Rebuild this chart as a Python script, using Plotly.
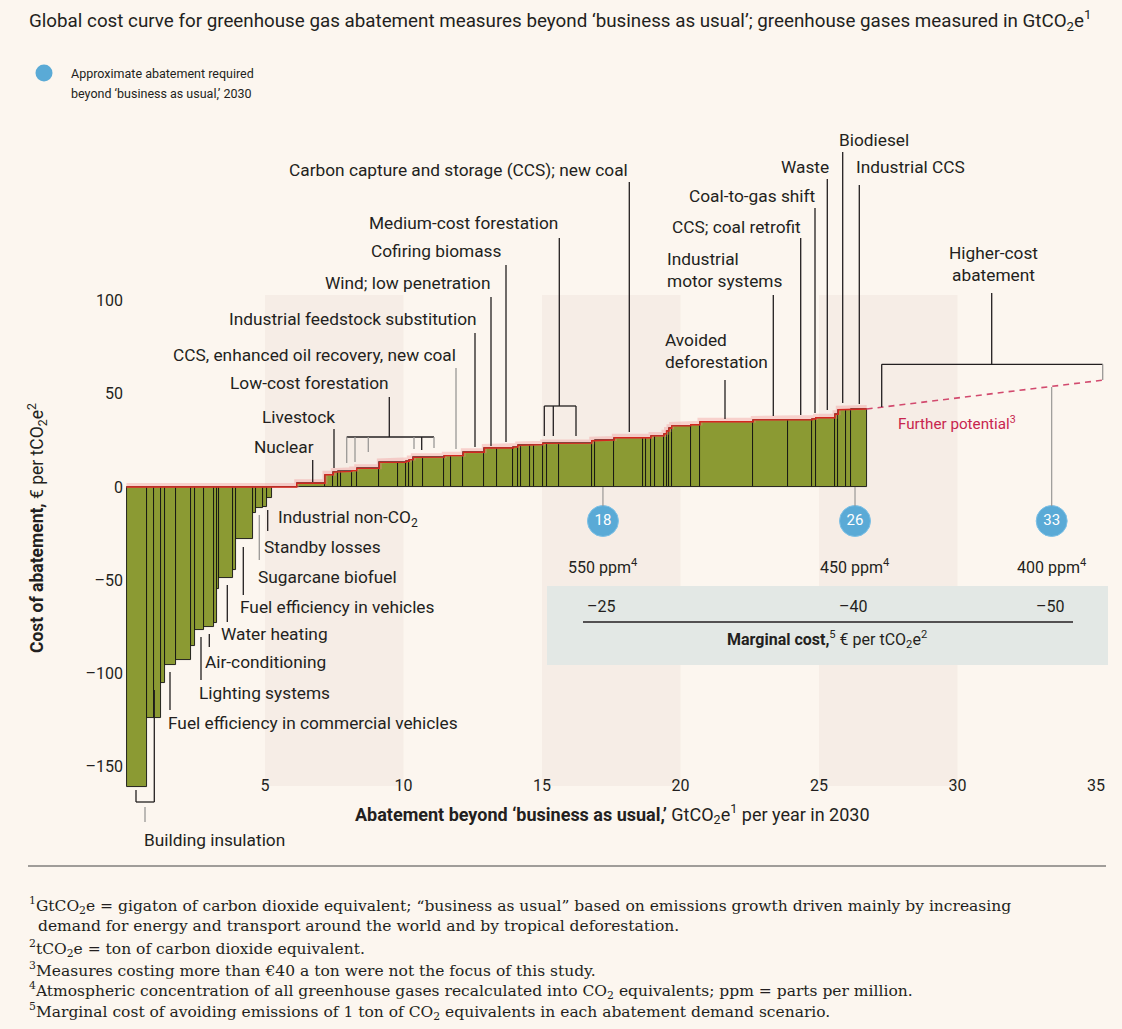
import plotly.graph_objects as go

# ---------------- data ----------------
# abatement width of each measure, GtCO2e per year, in cost-curve order
widths = [0.751, 0.253, 0.231, 0.155, 0.397, 0.542, 0.144, 0.336, 0.350, 0.097,
          0.094, 0.484, 0.119, 0.625, 0.097, 0.242, 0.144, 0.181,
          0.903,
          1.022, 0.300, 0.181, 0.097, 0.386, 0.181, 0.816, 0.686, 0.278, 0.119,
          0.144, 0.361, 0.758, 0.242, 0.444, 0.758, 0.448, 0.599, 0.159, 0.108,
          0.336, 0.155, 0.303, 0.144, 0.455, 1.170, 0.119, 0.697, 1.047, 0.097,
          0.181, 0.144, 0.325, 0.090, 0.090, 0.097, 0.686, 0.336, 1.924, 1.264,
          0.866, 0.123, 0.697, 0.119, 0.278, 0.170, 0.578]
# cost of each measure, EUR per tCO2e
costs = [-160.6, -124, -124, -105.3, -95.4, -93, -85, -76.7, -75, -72.7,
         -54.8, -49, -44.5, -27.9, -14.1, -11.4, -10.9, -6,
         0,
         2.0, 6.6, 8.0, 8.4, 8.4, 8.8, 10.0, 13.2, 13.2, 13.8,
         14.7, 15.9, 16.0, 16.8, 16.8, 18.6, 20.9, 20.9, 21.4, 22.3,
         22.7, 22.7, 22.7, 23.4, 23.4, 23.5, 24.8, 25.2, 26.4, 26.4,
         26.4, 27.4, 27.4, 28.5, 30.0, 31.5, 32.8, 33.4, 35.0, 36.0,
         36.0, 36.5, 37.1, 39.0, 41.4, 41.4, 41.8]
# "further potential" (higher cost) dashed extension
further_x = [26.72, 35.3]
further_cost = [41.8, 57.4]

x_ticks = [5, 10, 15, 20, 25, 30, 35]
y_ticks = [-150, -100, -50, 0, 50, 100]
y_tick_text = ["–150", "–100", "–50", "0", "50", "100"]

scenario_required = ["18", "26", "33"]          # GtCO2e required, 2030
scenario_pos = [17.2, 26.3, 33.4]               # where the markers sit on the x axis
scenario_ppm = ["550", "450", "400"]
scenario_marginal = ["–25", "–40", "–50"]

# ---------------- geometry helpers ----------------
W, H = 1122, 1029
X0PX, XS = 126.5, 27.7
Y0PX, YS = 487.0, 1.865


def X(px):
    return (px - X0PX) / XS


def Y(py):
    return (Y0PX - py) / YS


PAGE = "#fcf6ef"
BAND = "#f6ede6"
GREEN = "#8b9a33"
RED = "#d3271f"
DARK = "#231f20"
GRAY = "#9a9896"
BLUE = "#5aaad6"
SANS = "Roboto, Arial, sans-serif"
SERIF = "DejaVu Serif, Liberation Serif, serif"
LAB = 17.3

starts = []
acc = 0.0
for w in widths:
    starts.append(acc)
    acc += w
centers = [s + w / 2 for s, w in zip(starts, widths)]

fig = go.Figure()

# bars
fig.add_trace(go.Bar(x=centers, y=costs, width=widths,
                     marker=dict(color=GREEN, line=dict(color="#111", width=0.9)),
                     hoverinfo="skip", showlegend=False))

# red outline along the tops
lx, ly = [], []
for s, w, c in zip(starts, widths, costs):
    t = max(c, 0)
    lx += [s, s + w]
    ly += [t, t]
fig.add_trace(go.Scatter(x=lx, y=[v + 0.8 for v in ly], mode="lines",
                         line=dict(color="rgba(240,140,140,0.35)", width=5),
                         hoverinfo="skip", showlegend=False))
fig.add_trace(go.Scatter(x=lx, y=ly, mode="lines", line=dict(color=RED, width=1.4),
                         hoverinfo="skip", showlegend=False))
fig.add_trace(go.Scatter(x=further_x, y=further_cost, mode="lines",
                         line=dict(color="#d24a6e", width=1.6, dash="6px,5px"),
                         hoverinfo="skip", showlegend=False))

shapes = []
# background bands
for b0 in [5, 15, 25]:
    shapes.append(dict(type="rect", xref="x", yref="y", x0=b0, x1=b0 + 5,
                       y0=Y(786), y1=Y(295), fillcolor=BAND, line=dict(width=0),
                       layer="below"))
# marginal cost box
shapes.append(dict(type="rect", xref="x", yref="y", x0=X(547), x1=X(1108),
                   y0=Y(665), y1=Y(586), fillcolor="#e3e8e5", line=dict(width=0),
                   layer="below"))
# line under marginal cost values
shapes.append(dict(type="line", xref="x", yref="y", x0=X(583), x1=X(1073),
                   y0=Y(622), y1=Y(622), line=dict(color=DARK, width=1.3)))
# footnote separator
shapes.append(dict(type="line", xref="x", yref="y", x0=X(28), x1=X(1106),
                   y0=Y(866), y1=Y(866), line=dict(color="#444", width=1.2)))


def vline(px, p1, p2, color=DARK, w=1.3):
    shapes.append(dict(type="line", xref="x", yref="y", x0=X(px), x1=X(px),
                       y0=Y(p1), y1=Y(p2), line=dict(color=color, width=w)))


def hline(p1, p2, py, color=DARK, w=1.3):
    shapes.append(dict(type="line", xref="x", yref="y", x0=X(p1), x1=X(p2),
                       y0=Y(py), y1=Y(py), line=dict(color=color, width=w)))


# leader lines above the curve
for px, a, b, col in [
    (842.7, 152, 403, DARK), (827.3, 179, 410, DARK), (859.3, 185, 404, DARK),
    (815.0, 208, 413, DARK), (800.7, 238, 415, DARK), (773.3, 295, 416, DARK),
    (725.0, 380, 419, DARK), (629.3, 182, 432, DARK), (559.3, 238, 406, DARK),
    (506.0, 265, 442, DARK), (491.0, 297, 446, DARK), (475.0, 333, 447, DARK),
    (456.0, 368, 449, GRAY), (389.3, 397, 437, DARK), (334.0, 429, 468, DARK),
    (312.7, 460, 482, DARK),
]:
    vline(px, a, b, col)
# medium-cost forestation bracket
hline(544.3, 576, 406)
for px in [544.3, 553.3, 576]:
    vline(px, 406, 436)
# low-cost forestation bracket
hline(346.7, 434, 437)
for px, b, col in [(346.7, 463, GRAY), (355, 462, GRAY), (368.3, 452, GRAY),
                   (414, 449, GRAY), (421.7, 450, DARK), (434, 448, GRAY)]:
    vline(px, 437, b, col)
# higher-cost abatement bracket
hline(881.7, 1102.7, 364.3)
vline(881.7, 364.3, 407)
vline(1102.7, 364.3, 380, GRAY)
vline(991.7, 293, 364.3)

# leader lines below the curve
for px, a, b, col in [
    (267.7, 510, 531, DARK), (259.3, 515, 560, GRAY), (243.3, 547, 595, DARK),
    (227.3, 585, 622, DARK), (209.3, 634, 647, DARK), (201.0, 637, 680, DARK),
    (170.0, 672, 710, DARK),
]:
    vline(px, a, b, col)
# building insulation bracket
vline(136, 790, 802)
hline(136, 154.3, 802)
vline(154.3, 690, 802)
vline(145, 807, 822, GRAY)

# scenario stems
circ_y = 521
vline(X0PX + scenario_pos[0] * XS, 487, circ_y - 15, GRAY, 1.2)
vline(X0PX + scenario_pos[1] * XS, 487, circ_y - 15, GRAY, 1.2)
vline(X0PX + scenario_pos[2] * XS, 387, circ_y - 15, GRAY, 1.2)

# scenario markers
fig.add_trace(go.Scatter(x=scenario_pos, y=[Y(circ_y)] * 3, mode="markers+text",
                         marker=dict(size=31, color=BLUE, line=dict(color="#7cc0e6", width=1)),
                         text=scenario_required, textposition="middle center",
                         textfont=dict(color="white", size=15, family=SANS),
                         hoverinfo="skip", showlegend=False))
# legend marker
fig.add_trace(go.Scatter(x=[X(44)], y=[Y(73)], mode="markers",
                         marker=dict(size=17, color=BLUE), hoverinfo="skip",
                         showlegend=False))

ann = []


def label(text, px, py, xanchor="left", size=LAB, color=DARK, family=SANS, align=None):
    ann.append(dict(text=text, x=X(px), y=Y(py), xref="x", yref="y",
                    xanchor=xanchor, yanchor="middle", showarrow=False,
                    align=align or xanchor if xanchor != "center" else "center",
                    font=dict(size=size, color=color, family=family)))


# title and legend
label("Global cost curve for greenhouse gas abatement measures beyond ‘business as usual’; "
      "greenhouse gases measured in GtCO<sub>2</sub>e<sup>1</sup>", 27, 20, size=18.8)
label("Approximate abatement required", 69, 73, size=12.5)
label("beyond ‘business as usual,’ 2030", 69, 93, size=12.5)

# labels above the curve
label("Biodiesel", 837, 140)
label("Waste", 831, 167, "right")
label("Industrial CCS", 854, 167)
label("Coal-to-gas shift", 818, 196, "right")
label("CCS; coal retrofit", 803, 227, "right")
label("Industrial<br>motor systems", 665, 270, "left")
label("Avoided<br>deforestation", 663, 351, "left")
label("Carbon capture and storage (CCS); new coal", 287, 170)
label("Medium-cost forestation", 560, 223, "right")
label("Cofiring biomass", 504, 251, "right")
label("Wind; low penetration", 493, 283, "right")
label("Industrial feedstock substitution", 479, 319, "right")
label("CCS, enhanced oil recovery, new coal", 458, 355, "right")
label("Low-cost forestation", 391, 383, "right")
label("Livestock", 337, 417, "right")
label("Nuclear", 316, 447, "right")
label("Higher-cost<br>abatement", 993, 264, "center")
label("Further potential<sup>3</sup>", 896, 423, size=15.2, color="#c8254e")

# labels below the curve
label("Industrial non-CO<sub>2</sub>", 276, 518)
label("Standby losses", 262, 547)
label("Sugarcane biofuel", 256, 577)
label("Fuel efficiency in vehicles", 238, 607)
label("Water heating", 219, 634)
label("Air-conditioning", 203, 662)
label("Lighting systems", 197, 693)
label("Fuel efficiency in commercial vehicles", 166, 723)
label("Building insulation", 142, 840)

# scenario texts
for pos, ppm, mc in zip(scenario_pos, scenario_ppm, scenario_marginal):
    cx = X0PX + pos * XS
    label(ppm + " ppm<sup>4</sup>", cx, 566, "center", size=16)
    label(mc, cx - 2, 606, "center", size=16)
label("<b>Marginal cost,</b><sup>5</sup> € per tCO<sub>2</sub>e<sup>2</sup>", 827, 639, "center", size=16)

# axis titles
label("<b>Abatement beyond ‘business as usual,’</b> GtCO<sub>2</sub>e<sup>1</sup> per year in 2030",
      612, 814, "center", size=18)
ann.append(dict(text="<b>Cost of abatement,</b> € per tCO<sub>2</sub>e<sup>2</sup>",
                x=X(37), y=Y(528), xref="x", yref="y", textangle=-90,
                xanchor="center", yanchor="middle", showarrow=False,
                font=dict(size=17.5, color=DARK, family=SANS)))

# footnotes
foot = [
    ("<sup>1</sup>GtCO<sub>2</sub>e = gigaton of carbon dioxide equivalent; “business as usual” based on "
     "emissions growth driven mainly by increasing", 27, 905),
    ("demand for energy and transport around the world and by tropical deforestation.", 36, 926),
    ("<sup>2</sup>tCO<sub>2</sub>e = ton of carbon dioxide equivalent.", 27, 948),
    ("<sup>3</sup>Measures costing more than €40 a ton were not the focus of this study.", 27, 969),
    ("<sup>4</sup>Atmospheric concentration of all greenhouse gases recalculated into CO<sub>2</sub> "
     "equivalents; ppm = parts per million.", 27, 990),
    ("<sup>5</sup>Marginal cost of avoiding emissions of 1 ton of CO<sub>2</sub> equivalents in each "
     "abatement demand scenario.", 27, 1011),
]
for t, px, py in foot:
    label(t, px, py, size=15.5, family=SERIF)

fig.update_layout(
    width=W, height=H, autosize=False,
    margin=dict(l=0, r=0, t=0, b=0, pad=0),
    paper_bgcolor=PAGE, plot_bgcolor=PAGE,
    barmode="overlay", bargap=0,
    shapes=shapes, annotations=ann,
    xaxis=dict(range=[X(0), X(W)], domain=[0, 1], anchor="free", position=1 - 774 / H,
               tickvals=x_ticks, ticks="", showgrid=False, zeroline=False, showline=False,
               tickfont=dict(size=16, color=DARK, family=SANS), automargin=False,
               fixedrange=True),
    yaxis=dict(range=[Y(H), Y(0)], domain=[0, 1], anchor="free", position=123 / W,
               tickvals=y_ticks, ticktext=y_tick_text, ticks="", showgrid=False,
               zeroline=False, showline=False,
               tickfont=dict(size=16, color=DARK, family=SANS), automargin=False,
               fixedrange=True),
    showlegend=False,
)

fig.write_html("out.html", config={"displayModeBar": False},
               post_script="document.body.style.margin='0';document.body.style.overflow='hidden';")
